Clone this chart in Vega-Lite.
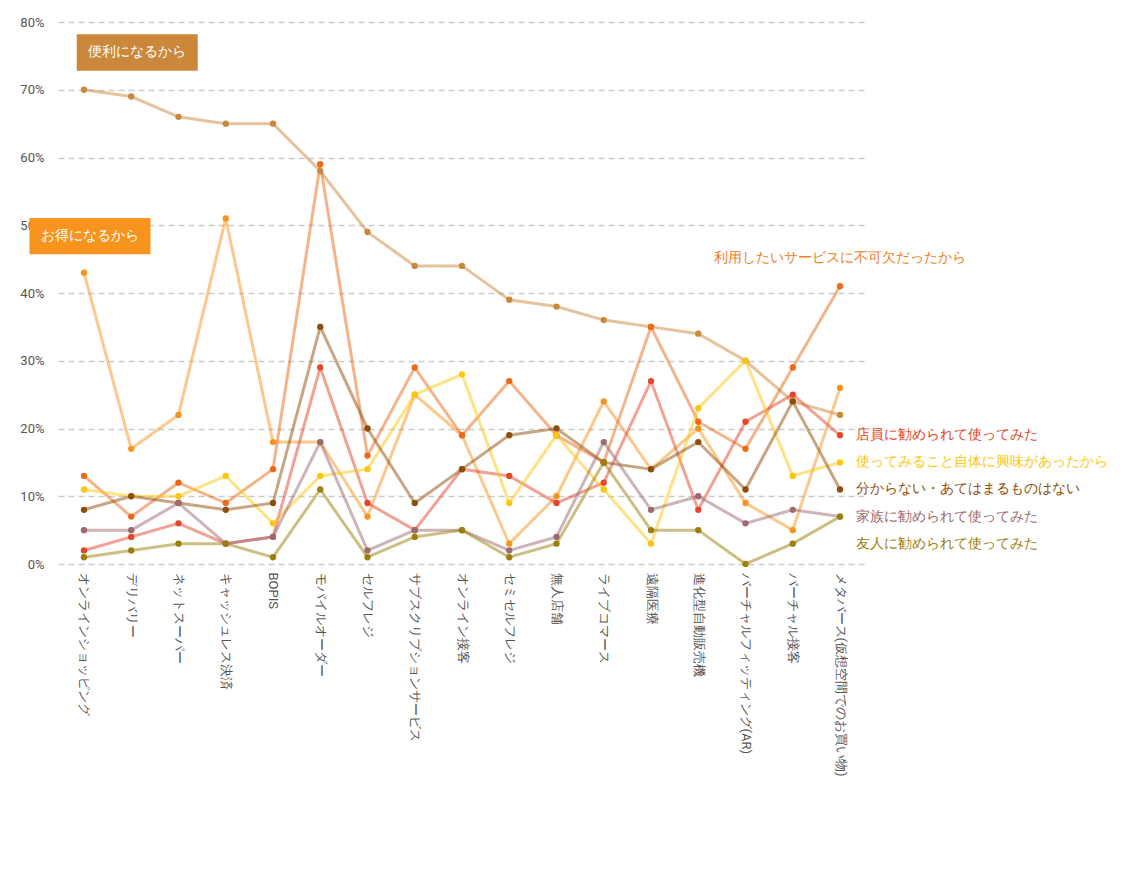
{
  "$schema": "https://vega.github.io/schema/vega-lite/v6.json",
  "autosize": "none",
  "width": 808,
  "height": 542,
  "padding": {"left": 58, "top": 22, "right": 277, "bottom": 307},
  "config": {"font": "Roboto", "view": {"stroke": null}},
  "datasets": {
    "main": [
      {"cat": "オンラインショッピング", "便利になるから": 70, "お得になるから": 43, "利用したいサービスに不可欠だったから": 13, "店員に勧められて使ってみた": 2, "使ってみること自体に興味があったから": 11, "分からない・あてはまるものはない": 8, "家族に勧められて使ってみた": 5, "友人に勧められて使ってみた": 1},
      {"cat": "デリバリー", "便利になるから": 69, "お得になるから": 17, "利用したいサービスに不可欠だったから": 7, "店員に勧められて使ってみた": 4, "使ってみること自体に興味があったから": 10, "分からない・あてはまるものはない": 10, "家族に勧められて使ってみた": 5, "友人に勧められて使ってみた": 2},
      {"cat": "ネットスーパー", "便利になるから": 66, "お得になるから": 22, "利用したいサービスに不可欠だったから": 12, "店員に勧められて使ってみた": 6, "使ってみること自体に興味があったから": 10, "分からない・あてはまるものはない": 9, "家族に勧められて使ってみた": 9, "友人に勧められて使ってみた": 3},
      {"cat": "キャッシュレス決済", "便利になるから": 65, "お得になるから": 51, "利用したいサービスに不可欠だったから": 9, "店員に勧められて使ってみた": 3, "使ってみること自体に興味があったから": 13, "分からない・あてはまるものはない": 8, "家族に勧められて使ってみた": 3, "友人に勧められて使ってみた": 3},
      {"cat": "BOPIS", "便利になるから": 65, "お得になるから": 18, "利用したいサービスに不可欠だったから": 14, "店員に勧められて使ってみた": 4, "使ってみること自体に興味があったから": 6, "分からない・あてはまるものはない": 9, "家族に勧められて使ってみた": 4, "友人に勧められて使ってみた": 1},
      {"cat": "モバイルオーダー", "便利になるから": 58, "お得になるから": 18, "利用したいサービスに不可欠だったから": 59, "店員に勧められて使ってみた": 29, "使ってみること自体に興味があったから": 13, "分からない・あてはまるものはない": 35, "家族に勧められて使ってみた": 18, "友人に勧められて使ってみた": 11},
      {"cat": "セルフレジ", "便利になるから": 49, "お得になるから": 7, "利用したいサービスに不可欠だったから": 16, "店員に勧められて使ってみた": 9, "使ってみること自体に興味があったから": 14, "分からない・あてはまるものはない": 20, "家族に勧められて使ってみた": 2, "友人に勧められて使ってみた": 1},
      {"cat": "サブスクリプションサービス", "便利になるから": 44, "お得になるから": 25, "利用したいサービスに不可欠だったから": 29, "店員に勧められて使ってみた": 5, "使ってみること自体に興味があったから": 25, "分からない・あてはまるものはない": 9, "家族に勧められて使ってみた": 5, "友人に勧められて使ってみた": 4},
      {"cat": "オンライン接客", "便利になるから": 44, "お得になるから": 19, "利用したいサービスに不可欠だったから": 19, "店員に勧められて使ってみた": 14, "使ってみること自体に興味があったから": 28, "分からない・あてはまるものはない": 14, "家族に勧められて使ってみた": 5, "友人に勧められて使ってみた": 5},
      {"cat": "セミセルフレジ", "便利になるから": 39, "お得になるから": 3, "利用したいサービスに不可欠だったから": 27, "店員に勧められて使ってみた": 13, "使ってみること自体に興味があったから": 9, "分からない・あてはまるものはない": 19, "家族に勧められて使ってみた": 2, "友人に勧められて使ってみた": 1},
      {"cat": "無人店舗", "便利になるから": 38, "お得になるから": 10, "利用したいサービスに不可欠だったから": 19, "店員に勧められて使ってみた": 9, "使ってみること自体に興味があったから": 19, "分からない・あてはまるものはない": 20, "家族に勧められて使ってみた": 4, "友人に勧められて使ってみた": 3},
      {"cat": "ライブコマース", "便利になるから": 36, "お得になるから": 24, "利用したいサービスに不可欠だったから": 15, "店員に勧められて使ってみた": 12, "使ってみること自体に興味があったから": 11, "分からない・あてはまるものはない": 15, "家族に勧められて使ってみた": 18, "友人に勧められて使ってみた": 15},
      {"cat": "遠隔医療", "便利になるから": 35, "お得になるから": 14, "利用したいサービスに不可欠だったから": 35, "店員に勧められて使ってみた": 27, "使ってみること自体に興味があったから": 3, "分からない・あてはまるものはない": 14, "家族に勧められて使ってみた": 8, "友人に勧められて使ってみた": 5},
      {"cat": "進化型自動販売機", "便利になるから": 34, "お得になるから": 20, "利用したいサービスに不可欠だったから": 21, "店員に勧められて使ってみた": 8, "使ってみること自体に興味があったから": 23, "分からない・あてはまるものはない": 18, "家族に勧められて使ってみた": 10, "友人に勧められて使ってみた": 5},
      {"cat": "バーチャルフィッティング(AR)", "便利になるから": 30, "お得になるから": 9, "利用したいサービスに不可欠だったから": 17, "店員に勧められて使ってみた": 21, "使ってみること自体に興味があったから": 30, "分からない・あてはまるものはない": 11, "家族に勧められて使ってみた": 6, "友人に勧められて使ってみた": 0},
      {"cat": "バーチャル接客", "便利になるから": 24, "お得になるから": 5, "利用したいサービスに不可欠だったから": 29, "店員に勧められて使ってみた": 25, "使ってみること自体に興味があったから": 13, "分からない・あてはまるものはない": 24, "家族に勧められて使ってみた": 8, "友人に勧められて使ってみた": 3},
      {"cat": "メタバース(仮想空間でのお買い物)", "便利になるから": 22, "お得になるから": 26, "利用したいサービスに不可欠だったから": 41, "店員に勧められて使ってみた": 19, "使ってみること自体に興味があったから": 15, "分からない・あてはまるものはない": 11, "家族に勧められて使ってみた": 7, "友人に勧められて使ってみた": 7}
    ],
    "ends": [
      {"cat": "メタバース(仮想空間でのお買い物)", "y": 19, "series": "店員に勧められて使ってみた"},
      {"cat": "メタバース(仮想空間でのお買い物)", "y": 15, "series": "使ってみること自体に興味があったから"},
      {"cat": "メタバース(仮想空間でのお買い物)", "y": 11, "series": "分からない・あてはまるものはない"},
      {"cat": "メタバース(仮想空間でのお買い物)", "y": 7, "series": "家族に勧められて使ってみた"},
      {"cat": "メタバース(仮想空間でのお買い物)", "y": 3, "series": "友人に勧められて使ってみた"}
    ],
    "boxes": [
      {"cat": "デリバリー", "y": 75.5, "series": "便利になるから"},
      {"cat": "オンラインショッピング", "y": 48.4, "series": "お得になるから"}
    ]
  },
  "encoding": {
    "x": {
      "field": "cat", "type": "ordinal", "sort": null,
      "scale": {"type": "point", "padding": 0.55},
      "axis": {"title": null, "labelAngle": 90, "labelAlign": "left", "labelBaseline": "middle", "labelFontSize": 13, "labelColor": "#555", "labelLimit": 300, "domain": false, "ticks": false, "labelPadding": 8}
    },
    "y": {
      "field": "v", "type": "quantitative",
      "scale": {"domain": [0, 80]},
      "axis": {"title": null, "values": [0, 10, 20, 30, 40, 50, 60, 70, 80], "labelExpr": "datum.value + '%'", "labelFontSize": 13, "labelColor": "#555", "domain": false, "ticks": false, "gridDash": [6, 4], "gridColor": "#ccc", "gridWidth": 1.5, "labelPadding": 14}
    },
    "color": {
      "field": "series", "type": "nominal", "legend": null,
      "scale": {
        "domain": ["便利になるから", "お得になるから", "利用したいサービスに不可欠だったから", "店員に勧められて使ってみた", "使ってみること自体に興味があったから", "分からない・あてはまるものはない", "家族に勧められて使ってみた", "友人に勧められて使ってみた"],
        "range": ["#cb883a", "#f7941d", "#ea6a17", "#e4462a", "#fcc60e", "#8f4d0a", "#9e6a6e", "#9c7f0a"]
      }
    }
  },
  "layer": [
    {
      "data": {"name": "main"},
      "transform": [{"fold": ["便利になるから", "お得になるから", "利用したいサービスに不可欠だったから", "店員に勧められて使ってみた", "使ってみること自体に興味があったから", "分からない・あてはまるものはない", "家族に勧められて使ってみた", "友人に勧められて使ってみた"], "as": ["series", "v"]}],
      "layer": [
        {"mark": {"type": "line", "strokeWidth": 3, "opacity": 0.5}},
        {"mark": {"type": "point", "filled": true, "opacity": 1, "size": 40}}
      ]
    },
    {
      "data": {"name": "ends"},
      "mark": {"type": "text", "align": "left", "dx": 16, "fontSize": 14},
      "encoding": {"y": {"field": "y", "type": "quantitative"}, "text": {"field": "series"}}
    },
    {
      "data": {"values": [{"cat": "メタバース(仮想空間でのお買い物)", "y": 45.2, "series": "利用したいサービスに不可欠だったから"}]},
      "mark": {"type": "text", "align": "center", "fontSize": 14, "color": "#f07e1a"},
      "encoding": {"y": {"field": "y", "type": "quantitative"}, "text": {"field": "series"}, "color": {"value": "#f07e1a"}}
    },
    {
      "data": {"name": "boxes"},
      "mark": {"type": "point", "filled": true, "opacity": 1, "shape": "M-1,-0.3H1V0.3H-1Z", "size": 14641, "dx": 6},
      "encoding": {"y": {"field": "y", "type": "quantitative"}, "xOffset": {"value": 6}}
    },
    {
      "data": {"name": "boxes"},
      "mark": {"type": "text", "align": "center", "dx": 6, "fontSize": 14, "color": "white"},
      "encoding": {"y": {"field": "y", "type": "quantitative"}, "text": {"field": "series"}, "color": {"value": "white"}}
    }
  ]
}
